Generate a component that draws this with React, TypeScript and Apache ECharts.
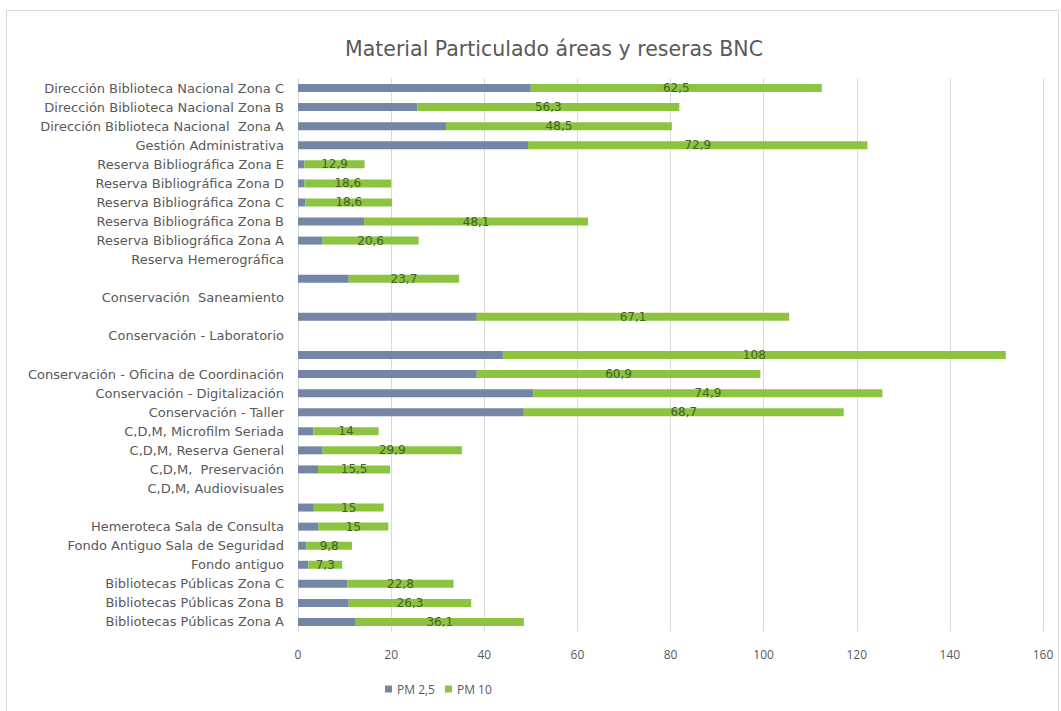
import React, { useEffect, useRef } from "react";
import * as echarts from "echarts";

const title = "Material Particulado áreas y reseras BNC";

const categories: string[] = [
  "Dirección Biblioteca Nacional Zona C",
  "Dirección Biblioteca Nacional Zona B",
  "Dirección Biblioteca Nacional  Zona A",
  "Gestión Administrativa",
  "Reserva Bibliográfica Zona E",
  "Reserva Bibliográfica Zona D",
  "Reserva Bibliográfica Zona C",
  "Reserva Bibliográfica Zona B",
  "Reserva Bibliográfica Zona A",
  "Reserva Hemerográfica",
  "",
  "Conservación  Saneamiento",
  "",
  "Conservación - Laboratorio",
  "",
  "Conservación - Oficina de Coordinación",
  "Conservación - Digitalización",
  "Conservación - Taller",
  "C,D,M, Microfilm Seriada",
  "C,D,M, Reserva General",
  "C,D,M,  Preservación",
  "C,D,M, Audiovisuales",
  "",
  "Hemeroteca Sala de Consulta",
  "Fondo Antiguo Sala de Seguridad",
  "Fondo antiguo",
  "Bibliotecas Públicas Zona C",
  "Bibliotecas Públicas Zona B",
  "Bibliotecas Públicas Zona A",
];

const pm25: (number | null)[] = [
  50, 25.6, 31.8, 49.4, 1.4, 1.4, 1.6, 14.2, 5.3, null, 10.9, null, 38.4, null, 44,
  38.4, 50.6, 48.5, 3.3, 5.3, 4.3, null, 3.4, 4.4, 1.8, 2.2, 10.6, 10.9, 12.4,
];

const pm10: (number | null)[] = [
  62.5, 56.3, 48.5, 72.9, 12.9, 18.6, 18.6, 48.1, 20.6, null, 23.7, null, 67.1, null, 108,
  60.9, 74.9, 68.7, 14, 29.9, 15.5, null, 15, 15, 9.8, 7.3, 22.8, 26.3, 36.1,
];

const seriesNames = ["PM 2,5", "PM 10"];
const xTicks = { min: 0, max: 160, interval: 20 };

export default function App() {
  const ref = useRef<HTMLDivElement>(null);
  useEffect(() => {
    document.body.style.margin = "0";
    if (!ref.current) return;
    const chart = echarts.init(ref.current, undefined, { renderer: "svg" });
    const font = "'Open Sans', 'Noto Sans', sans-serif";
    const wide = "'DejaVu Sans', sans-serif";
    chart.setOption({
      animation: false,
      backgroundColor: "#ffffff",
      textStyle: { fontFamily: font },
      graphic: [
        {
          type: "rect",
          shape: { x: 6.5, y: 10.5, width: 1052, height: 705 },
          style: { fill: "none", stroke: "#d9d9d9", lineWidth: 1 },
          silent: true,
        },
      ],
      title: {
        text: title,
        left: 549,
        textAlign: "center",
        top: 33,
        textStyle: { fontSize: 20.5, fontWeight: "normal", color: "#595959", fontFamily: wide },
      },
      legend: {
        bottom: 11,
        left: 380,
        itemWidth: 7,
        itemHeight: 7,
        itemGap: 10,
        icon: "rect",
        textStyle: { fontSize: 12, color: "#595959", fontFamily: font },
        data: seriesNames,
      },
      grid: { left: 298, right: 18, top: 78.5, bottom: 79.5, containLabel: false },
      xAxis: {
        type: "value",
        min: xTicks.min,
        max: xTicks.max,
        interval: xTicks.interval,
        axisLine: { show: false },
        axisTick: { show: false },
        axisLabel: { color: "#595959", fontSize: 12, margin: 17, fontFamily: font },
        splitLine: { lineStyle: { color: "#d9d9d9", width: 1 } },
      },
      yAxis: {
        type: "category",
        inverse: true,
        data: categories,
        axisLine: { show: true, lineStyle: { color: "#d9d9d9" } },
        axisTick: { show: false },
        axisLabel: { color: "#595959", fontSize: 13, margin: 14, fontFamily: wide },
      },
      series: [
        {
          name: seriesNames[0],
          type: "bar",
          stack: "pm",
          barWidth: 8,
          itemStyle: { color: "#7585a6" },
          data: pm25,
        },
        {
          name: seriesNames[1],
          type: "bar",
          stack: "pm",
          barWidth: 8,
          itemStyle: { color: "#8cc43f" },
          data: pm10,
          label: {
            show: true,
            position: "inside",
            color: "#45602a",
            fontSize: 12,
            fontFamily: wide,
            formatter: (p: any) => String(p.value).replace(".", ","),
          },
        },
      ],
    });
    return () => chart.dispose();
  }, []);
  return <div ref={ref} style={{ width: 1061, height: 711 }} />;
}
